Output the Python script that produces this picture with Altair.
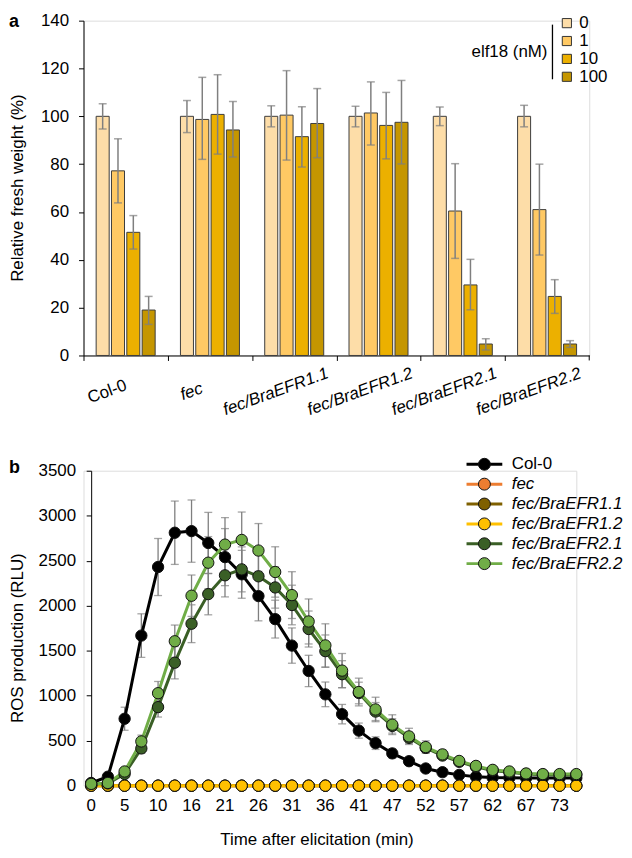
import altair as alt
import pandas as pd

FONT = "Liberation Sans"
FS = 17

# ---------------- Panel a data ----------------
genotypes = ["Col-0", "fec", "fec/BraEFR1.1", "fec/BraEFR1.2", "fec/BraEFR2.1", "fec/BraEFR2.2"]
doses = ["0", "1", "10", "100"]
bar_colors = ["#FDDDA8", "#FFC964", "#ECB000", "#C59600"]

col0_fw = [100, 77.2, 51.5, 19.0]
col0_hi = [105.3, 90.6, 58.5, 24.7]
col0_lo = [94.7, 63.8, 44.5, 13.0]
fec_fw = [100, 98.7, 100.8, 94.3]
fec_hi = [106.6, 116.3, 117.4, 106.2]
fec_lo = [93.2, 82.0, 84.2, 83.0]
e11_fw = [100, 100.5, 91.5, 97.0]
e11_hi = [104.4, 119.1, 104.0, 111.6]
e11_lo = [95.6, 81.7, 78.8, 82.7]
e12_fw = [100, 101.4, 96.2, 97.5]
e12_hi = [104.2, 114.4, 110.0, 115.0]
e12_lo = [95.6, 88.0, 82.2, 80.1]
e21_fw = [100, 60.4, 29.5, 4.8]
e21_hi = [103.9, 80.2, 40.2, 7.0]
e21_lo = [96.1, 40.6, 19.1, 2.3]
e22_fw = [100, 61.0, 24.7, 4.8]
e22_hi = [104.6, 80.0, 31.7, 6.2]
e22_lo = [95.6, 42.0, 17.6, 3.4]

fw_means = [col0_fw, fec_fw, e11_fw, e12_fw, e21_fw, e22_fw]
fw_his = [col0_hi, fec_hi, e11_hi, e12_hi, e21_hi, e22_hi]
fw_los = [col0_lo, fec_lo, e11_lo, e12_lo, e21_lo, e22_lo]

rows = []
for g, m, h, l in zip(genotypes, fw_means, fw_his, fw_los):
    for d, mv, hv, lv in zip(doses, m, h, l):
        rows.append({"genotype": g, "dose": d, "mean": mv, "hi": hv, "lo": lv})
df_a = pd.DataFrame(rows)

# ---------------- Panel b data ----------------
time_min = ["0", "3", "5", "8", "10", "13", "16", "18", "21", "23", "26", "28", "31", "34",
            "36", "39", "41", "44", "47", "49", "52", "54", "57", "60", "62", "65", "67",
            "70", "73", "75"]
time_labels = time_min[::2]
series = ["Col-0", "fec", "fec/BraEFR1.1", "fec/BraEFR1.2", "fec/BraEFR2.1", "fec/BraEFR2.2"]
line_colors = ["#000000", "#ED7D31", "#7F6000", "#FFC000", "#3A5F26", "#70AD47"]

ros_col0 = [30, 100, 744, 1668, 2430, 2811, 2829, 2697, 2540, 2349, 2107, 1851, 1557, 1275,
            1015, 795, 612, 473, 359, 272, 191, 150, 120, 100, 90, 88, 86, 85, 85, 85]
err_col0 = [10, 20, 128, 242, 317, 352, 346, 340, 317, 266, 275, 210, 196, 174, 137, 108,
            84, 70, 50, 40, 30, 25, 20, 15, 12, 10, 10, 10, 10, 10]
ros_fec = [0] * 30
ros_e11 = [0] * 30
ros_e12 = [0] * 30
ros_e21 = [20, 25, 130, 414, 873, 1367, 1800, 2129, 2338, 2404, 2327, 2203, 2008, 1741,
           1495, 1239, 1030, 824, 664, 532, 420, 335, 265, 210, 168, 148, 130, 122, 120, 120]
err_e21 = [5, 10, 30, 55, 110, 180, 210, 230, 240, 250, 240, 230, 220, 200, 180, 150, 120,
           100, 80, 60, 45, 35, 25, 20, 15, 12, 10, 10, 10, 10]
ros_e22 = [20, 30, 158, 492, 1028, 1605, 2111, 2478, 2679, 2731, 2613, 2375, 2118, 1825,
           1559, 1279, 1041, 847, 678, 548, 429, 348, 275, 220, 176, 158, 136, 129, 129, 129]
err_e22 = [5, 10, 40, 70, 130, 180, 230, 290, 300, 310, 300, 280, 260, 250, 240, 190, 154,
           136, 110, 90, 70, 50, 40, 30, 20, 15, 12, 10, 10, 10]
zero_err = [0] * 30

ros_all = [ros_col0, ros_fec, ros_e11, ros_e12, ros_e21, ros_e22]
err_all = [err_col0, zero_err, zero_err, zero_err, err_e21, err_e22]

rows = []
for si, (s, vals, errs) in enumerate(zip(series, ros_all, err_all)):
    for t, v, e in zip(time_min, vals, errs):
        rows.append({"series": s, "order": si, "t": t, "ros": v,
                     "lo": v - e, "hi": v + e, "err": e})
df_b = pd.DataFrame(rows)
df_b_err = df_b[df_b["err"] > 0]

# ---------------- Panel a ----------------
WA, HA = 509, 337
STEP_A = WA / 6.0
x_a = alt.X(
    "genotype:N", sort=genotypes,
    scale=alt.Scale(paddingInner=0.3, paddingOuter=0.15),
    axis=alt.Axis(
        title=None, labelAngle=340, labelAlign="center", labelBaseline="middle",
        labelPadding=31, tickOffset=-STEP_A / 2, labelOffset=STEP_A / 2 - 19, tickSize=5,
        tickColor="black", domainColor="black", labelOverlap=False,
        labelFontSize=FS, labelColor="black", labelFont=FONT,
        labelFontStyle={"condition": {"test": "datum.value == 'Col-0'", "value": "normal"},
                        "value": "italic"},
    ),
)
xo_a = alt.XOffset("dose:N", sort=doses, scale=alt.Scale(paddingInner=0.15))
y_a = alt.Y(
    "mean:Q",
    scale=alt.Scale(domain=[0, 140]),
    axis=alt.Axis(
        title=None, values=list(range(0, 141, 20)), grid=False,
        format="d", tickSize=5, tickColor="black", domainColor="black", labelPadding=10,
        labelFontSize=FS, labelColor="black", labelFont=FONT,
    ),
)

bars = alt.Chart(df_a).mark_bar(stroke="#3C3C3C", strokeWidth=1).encode(
    x=x_a, xOffset=xo_a, y=y_a,
    color=alt.Color(
        "dose:N", sort=doses,
        scale=alt.Scale(domain=doses, range=bar_colors),
        legend=alt.Legend(
            title=None, orient="none", legendX=478, legendY=-6, symbolType="square",
            symbolSize=85, symbolStrokeColor="#333333", symbolStrokeWidth=1,
            symbolOpacity=1, labelFontSize=FS, labelFont=FONT, labelColor="black",
            rowPadding=0, labelOffset=4, padding=0,
        ),
    ),
)
err_rule_a = alt.Chart(df_a).mark_rule(color="#7F7F7F", strokeWidth=1.5).encode(
    x=alt.X("genotype:N", sort=genotypes), xOffset=alt.XOffset("dose:N", sort=doses),
    y="lo:Q", y2="hi:Q",
)
cap_hi_a = alt.Chart(df_a).mark_tick(color="#7F7F7F", size=8, thickness=1.5).encode(
    x=alt.X("genotype:N", sort=genotypes), xOffset=alt.XOffset("dose:N", sort=doses),
    y="hi:Q",
)
cap_lo_a = alt.Chart(df_a).mark_tick(color="#7F7F7F", size=8, thickness=1.5).encode(
    x=alt.X("genotype:N", sort=genotypes), xOffset=alt.XOffset("dose:N", sort=doses),
    y="lo:Q",
)
end_tick_a = alt.Chart(pd.DataFrame({"k": [0]})).mark_rule(
    color="black", strokeWidth=1
).encode(x=alt.value(WA), y=alt.value(HA), y2=alt.value(HA + 5))
title_a = alt.Chart(pd.DataFrame({"txt": ["Relative fresh weight (%)"]})).mark_text(
    align="center", baseline="middle", angle=270, fontSize=FS, font=FONT, color="black"
).encode(x=alt.value(-66), y=alt.value(HA / 2), text="txt:N")
legend_title_a = alt.Chart(pd.DataFrame({"txt": ["elf18 (nM)"]})).mark_text(
    align="right", baseline="middle", fontSize=FS, font=FONT, color="black"
).encode(x=alt.value(467), y=alt.value(32), text="txt:N")
legend_bar_a = alt.Chart(pd.DataFrame({"k": [0]})).mark_rule(
    color="black", strokeWidth=1.3
).encode(x=alt.value(472), y=alt.value(4), y2=alt.value(59))
label_a = alt.Chart(pd.DataFrame({"txt": ["a"]})).mark_text(
    align="left", baseline="top", fontSize=18, font=FONT, fontWeight="bold", color="black"
).encode(x=alt.value(-75), y=alt.value(-8), text="txt:N")

panel_a = alt.layer(
    bars, err_rule_a, cap_hi_a, cap_lo_a, end_tick_a, title_a, legend_title_a,
    legend_bar_a, label_a
).properties(width=WA, height=HA)

# ---------------- Panel b ----------------
WB, HB = 496, 317
X0_B = 7.7  # y axis of panel b sits a little right of panel a's
x_b = alt.X(
    "t:O", scale=alt.Scale(type="point", padding=0, domain=time_min, range=[X0_B, WB]),
    axis=alt.Axis(title=None, labels=False, ticks=False, domainColor="black"),
)
y_b_axis = alt.Axis(
    title=None, values=list(range(0, 3501, 500)), grid=False, offset=-X0_B,
    format="d", tickSize=5, tickColor="black", domainColor="black", labelPadding=10.7,
    labelFontSize=FS, labelColor="black", labelFont=FONT,
)
y_b = alt.Y("ros:Q", scale=alt.Scale(domain=[0, 3500]), axis=y_b_axis)

err_rule_b = alt.Chart(df_b_err).mark_rule(color="#7F7F7F", strokeWidth=1.3).encode(
    x=x_b, y=alt.Y("lo:Q", scale=alt.Scale(domain=[0, 3500]), axis=y_b_axis), y2="hi:Q",
)
cap_hi_b = alt.Chart(df_b_err).mark_tick(color="#7F7F7F", size=8, thickness=1.3).encode(
    x=x_b, y=alt.Y("hi:Q"),
)
cap_lo_b = alt.Chart(df_b_err).mark_tick(color="#7F7F7F", size=8, thickness=1.3).encode(
    x=x_b, y=alt.Y("lo:Q"),
)

legend_font_style = {"expr": "datum.label == 'Col-0' ? 'normal' : 'italic'"}
LEG_X, LEG_Y = 395, -15

lines = alt.Chart(df_b).mark_line(strokeWidth=3).encode(
    x=x_b, y=y_b,
    color=alt.Color(
        "series:N", sort=series,
        scale=alt.Scale(domain=series, range=line_colors),
        legend=alt.Legend(
            title=None, orient="none", legendX=LEG_X, legendY=LEG_Y,
            symbolType="M-3,0L3,0", symbolSize=144, symbolStrokeWidth=3,
            labelFontSize=FS, labelFont=FONT, labelColor="black",
            labelFontStyle=legend_font_style, rowPadding=2, labelOffset=19, padding=0,
        ),
    ),
    order="order:Q",
)
points = alt.Chart(df_b).mark_circle(size=130, stroke="#111111", strokeWidth=1, opacity=1).encode(
    x=x_b, y=y_b,
    color=alt.Color(
        "series:N", sort=series,
        scale=alt.Scale(domain=series, range=line_colors),
        legend=alt.Legend(
            title=None, orient="none", legendX=LEG_X, legendY=LEG_Y, symbolType="circle",
            symbolSize=144, symbolStrokeColor="#111111", symbolStrokeWidth=1,
            symbolOpacity=1, labelFontSize=FS, labelFont=FONT,
            labelColor="rgba(0,0,0,0)", labelFontStyle=legend_font_style, rowPadding=2,
            labelOffset=19, padding=0,
        ),
    ),
    order="order:Q",
)
xlabels_b = alt.Chart(pd.DataFrame({"t": time_labels})).mark_text(
    align="center", baseline="middle", fontSize=FS, font=FONT, color="black"
).encode(x=x_b, y=alt.value(HB + 20), text="t:N")
xtitle_b = alt.Chart(pd.DataFrame({"txt": ["Time after elicitation (min)"]})).mark_text(
    align="center", baseline="middle", fontSize=FS, font=FONT, color="black"
).encode(x=alt.value(235), y=alt.value(HB + 55), text="txt:N")
ytitle_b = alt.Chart(pd.DataFrame({"txt": ["ROS production (RLU)"]})).mark_text(
    align="center", baseline="middle", angle=270, fontSize=FS, font=FONT, color="black"
).encode(x=alt.value(-66), y=alt.value(HB / 2 + 10), text="txt:N")
label_b = alt.Chart(pd.DataFrame({"txt": ["b"]})).mark_text(
    align="left", baseline="top", fontSize=18, font=FONT, fontWeight="bold", color="black"
).encode(x=alt.value(-75), y=alt.value(-12), text="txt:N")

panel_b = alt.layer(
    err_rule_b, cap_hi_b, cap_lo_b, lines, points, xlabels_b, xtitle_b, ytitle_b, label_b
).resolve_scale(color="independent").properties(width=WB, height=HB)

chart = alt.concat(panel_a, panel_b, columns=1, spacing=36, align="none").resolve_scale(
    color="independent"
).properties(
    padding={"left": 0, "top": 0, "right": 0, "bottom": 0}
).configure_view(stroke=None).configure(font=FONT)

chart.save("out.html", embed_options={"renderer": "svg", "actions": False})
